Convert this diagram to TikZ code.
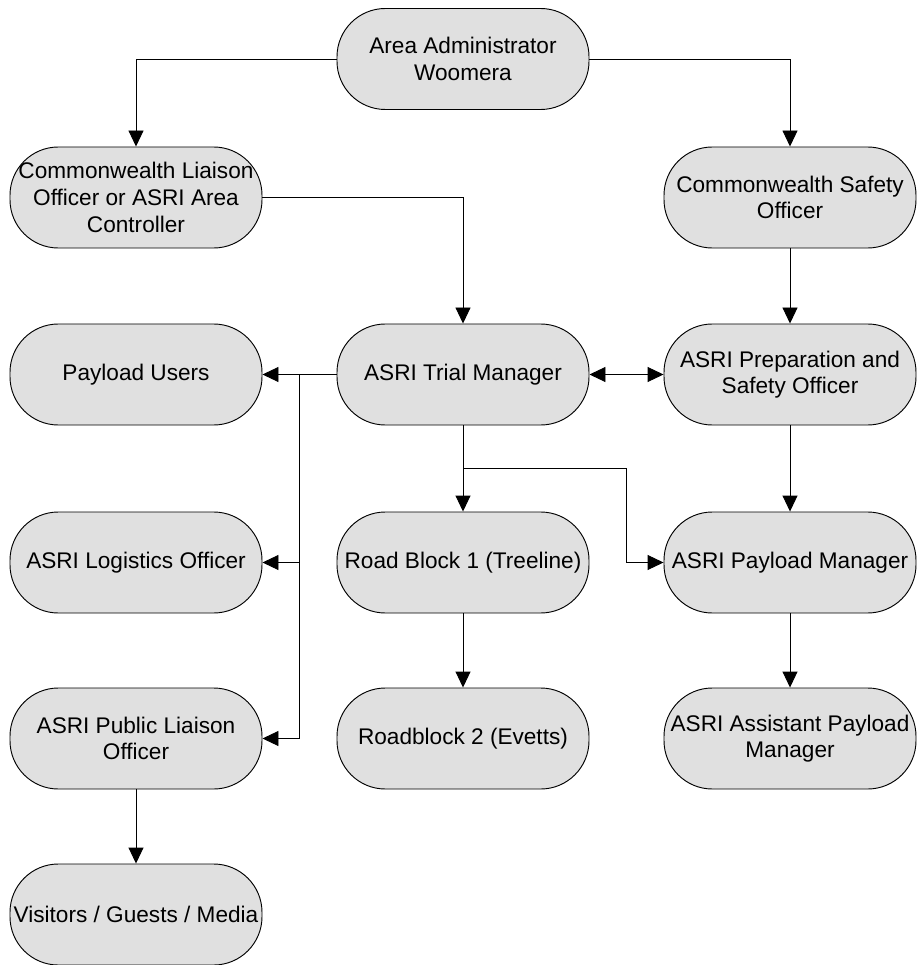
\documentclass[tikz,border=0pt]{standalone}
\usepackage{fontspec}
\setmainfont{Liberation Sans}
\usepackage{tikz}
\usepackage{xcolor}
\usetikzlibrary{arrows.meta}
\definecolor{rolegray}{RGB}{224,224,224}
\tikzset{>={Triangle[length=0.48cm, width=0.45cm]}}
\tikzset{role/.style={draw, fill=rolegray, rounded corners=1.45cm,
    minimum width=7.56cm, minimum height=3.03cm, inner sep=0pt,
    align=center, font=\fontsize{19.3}{22.7}\selectfont}}

\begin{document}
\begin{tikzpicture}[x=0.03cm, y=-0.03cm, line width=0.8pt]
          \useasboundingbox (0, 0) rectangle (917, 965);
          % rows of posts
          \node[role] (admin) at (463, 59) {Area Administrator\\Woomera};
          \node[role] (clo) at (136, 197.5) {Commonwealth Liaison\\Officer or ASRI Area\\Controller};
          \node[role] (cso) at (790, 197.5) {Commonwealth Safety\\Officer};
          \node[role] (users) at (136, 374.5) {Payload Users};
          \node[role] (trial) at (463, 374.5) {ASRI Trial Manager};
          \node[role] (prep) at (790, 374.5) {ASRI Preparation and\\Safety Officer};
          \node[role] (logistics) at (136, 562.5) {ASRI Logistics Officer};
          \node[role] (rb1) at (463, 562.5) {Road Block 1 (Treeline)};
          \node[role] (paymgr) at (790, 562.5) {ASRI Payload Manager};
          \node[role] (public) at (136, 738.5) {ASRI Public Liaison\\Officer};
          \node[role] (rb2) at (463, 738.5) {Roadblock 2 (Evetts)};
          \node[role] (asst) at (790, 738.5) {ASRI Assistant Payload\\Manager};
          \node[role] (visitors) at (136, 914.5) {Visitors / Guests / Media};
          % branch points
          \path (trial.west) -- coordinate[midway] (lsplit) (users.east);
          \path (trial.south) -- coordinate[midway] (rsplit) (rb1.north);
          \path (trial.east) -- coordinate[midway] (pmid) (prep.west);
          \coordinate (rbend) at (rsplit -| pmid);
          % links
          \draw[->] (admin.west) -| (clo.north);
          \draw[->] (admin.east) -| (cso.north);
          \draw[->] (clo.east) -| (trial.north);
          \draw[->] (cso.south) -- (prep.north);
          \draw[<->] (trial.east) -- (prep.west);
          \draw[->] (trial.west) -- (users.east);
          \draw[->] (lsplit) |- (logistics.east);
          \draw[->] (lsplit) |- (public.east);
          \draw[->] (trial.south) -- (rb1.north);
          \draw (rsplit) -- (rbend);
          \draw[->] (rbend) |- (paymgr.west);
          \draw[->] (prep.south) -- (paymgr.north);
          \draw[->] (rb1.south) -- (rb2.north);
          \draw[->] (paymgr.south) -- (asst.north);
          \draw[->] (public.south) -- (visitors.north);
        \end{tikzpicture}
\end{document}
